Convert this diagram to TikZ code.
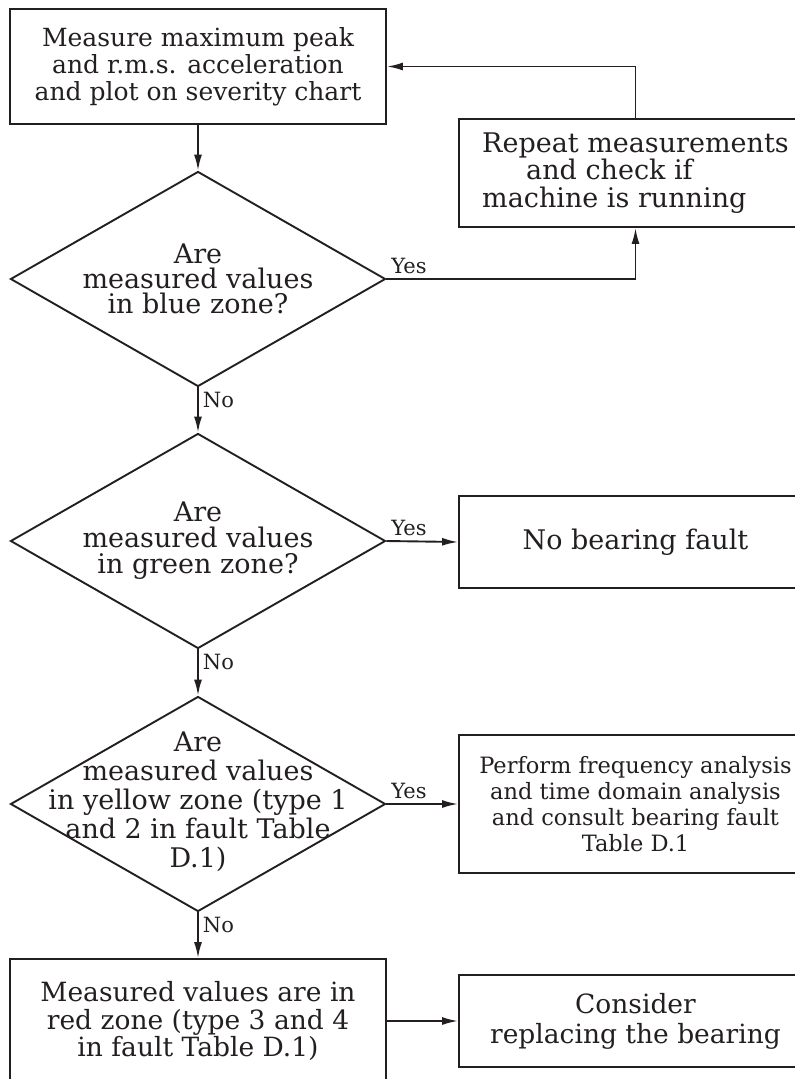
\documentclass[tikz,border=0pt]{standalone}
\usepackage{fontspec}
\setmainfont{DejaVu Serif}
\usetikzlibrary{arrows.meta, positioning, shapes.geometric}
\definecolor{inkCol}{HTML}{231F20}

\begin{document}
\begin{tikzpicture}[
    x=1pt, y=-1pt,
    inkCol,
    >={Latex[length=16pt, width=8pt]},
    line width=1.9pt,
    leftbox/.style={draw, rectangle, inner sep=0pt, align=center, minimum width=376pt},
    rightbox/.style={draw, rectangle, inner sep=0pt, align=center, minimum width=353pt},
    decision/.style={draw, diamond, inner sep=0pt, minimum width=375pt, minimum height=215pt},
    dtext/.style={align=center, inner sep=0pt, font=\fontsize{27}{25}\selectfont},
    answer/.style={inner sep=4pt, font=\fontsize{21}{21}\selectfont}
]
\useasboundingbox (0,0) rectangle (795,1079);
\clip (0,0) rectangle (795,1079);

% --- 1. LEFT COLUMN ---
\node[leftbox, minimum height=115pt, font=\fontsize{25}{27}\selectfont] (meas) at (198, 66.5)
    {Measure maximum peak\\and r.m.s. acceleration\\and plot on severity chart};

\node[decision] (d1) at (198, 279) {};
\node[dtext] (d1t) at (198, 279) {Are\\measured values\\in blue zone?};

\node[decision] (d2) at (198, 541) {};
\node[dtext, font=\fontsize{27}{26}\selectfont] (d2t) at (198, 541) {Are\\measured values\\in green zone?};

\node[decision] (d3) at (198, 804) {};
\node[dtext, font=\fontsize{27}{29}\selectfont] (d3t) at (198, 802)
    {Are\\measured values\\in yellow zone (type 1\\and 2 in fault Table\\D.1)};

\node[leftbox, minimum height=124pt, font=\fontsize{26.5}{27.5}\selectfont] (red) at (198, 1021)
    {Measured values are in\\red zone (type 3 and 4\\in fault Table D.1)};

% --- 2. RIGHT COLUMN ---
\node[rightbox, minimum height=108pt, align=left, font=\fontsize{27}{27.5}\selectfont] (rep) at (635.5, 173)
    {Repeat measurements\\\hspace*{44pt}and check if\\machine is running};

\node[rightbox, minimum height=92pt, font=\fontsize{27}{27}\selectfont] (nbf) at (635.5, 542)
    {No bearing fault};

\node[rightbox, minimum height=138pt, font=\fontsize{22.5}{26}\selectfont] (perf) at (635.5, 804)
    {Perform frequency analysis\\and time domain analysis\\and consult bearing fault\\Table D.1};

\node[rightbox, minimum height=92pt, font=\fontsize{26.5}{30}\selectfont] (cons) at (635.5, 1021)
    {Consider\\replacing the bearing};

% --- 3. CONNECTORS ---
\draw[->] (meas.south) -- (d1.north);
\draw[->] (d1.east) -| node[pos=0, above right, answer] {Yes} (rep.south);
\draw[->] (rep.north) |- (meas.east);

\draw[->] (d1.south) -- node[pos=0, below right, answer] {No} (d2.north);
\draw[->] (d2.east) -- node[pos=0, above right, answer] {Yes} (nbf.west);

\draw[->] (d2.south) -- node[pos=0, below right, answer] {No} (d3.north);
\draw[->] (d3.east) -- node[pos=0, above right, answer] {Yes} (perf.west);

\draw[->] (d3.south) -- node[pos=0, below right, answer] {No} (red.north);
\draw[->] (red.east) -- (cons.west);

\end{tikzpicture}
\end{document}
